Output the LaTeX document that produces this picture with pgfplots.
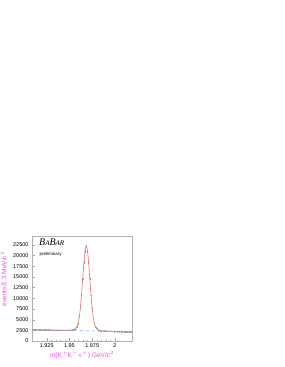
\documentclass[border=0pt]{standalone}
\usepackage{fontspec}
\setmainfont{Liberation Sans}
\newfontfamily\logofont{Liberation Serif}
\usepackage{pgfplots}
\usepackage{pgfplotstable}
\pgfplotsset{compat=1.18}
\definecolor{labmag}{RGB}{240,70,240}
\definecolor{fitred}{RGB}{230,110,110}
\definecolor{bgblue}{RGB}{140,140,255}
\pgfplotstableread{
x fit data err
1.9100 2650 2612 51
1.9113 2644 2690 52
1.9126 2639 2618 51
1.9139 2633 2660 52
1.9152 2627 2581 51
1.9165 2621 2644 51
1.9178 2615 2652 51
1.9191 2609 2575 51
1.9204 2603 2630 51
1.9217 2598 2561 51
1.9230 2592 2620 51
1.9243 2586 2604 51
1.9256 2580 2547 50
1.9269 2574 2611 51
1.9282 2568 2590 51
1.9295 2563 2528 50
1.9308 2557 2583 51
1.9321 2551 2572 51
1.9334 2545 2510 50
1.9347 2539 2566 51
1.9360 2533 2549 50
1.9373 2527 2495 50
1.9386 2522 2540 50
1.9399 2516 2531 50
1.9412 2510 2478 50
1.9425 2509 2533 50
1.9438 2505 2490 50
1.9451 2503 2527 50
1.9464 2504 2480 50
1.9477 2508 2535 50
1.9490 2516 2498 50
1.9503 2529 2561 51
1.9516 2549 2530 50
1.9529 2583 2612 51
1.9542 2636 2608 51
1.9555 2734 2770 53
1.9568 2925 2890 54
1.9581 3321 3370 58
1.9594 4095 4050 64
1.9607 5490 5560 75
1.9620 7730 7660 88
1.9633 10869 10950 105
1.9646 14639 14540 121
1.9659 18371 18480 136
1.9672 21157 21050 145
1.9685 22187 22350 150
1.9698 21145 21230 146
1.9711 18347 18250 135
1.9724 14603 14700 121
1.9737 10823 10740 104
1.9750 7672 7740 88
1.9763 5420 5370 73
1.9776 4013 4070 64
1.9789 3227 3190 56
1.9802 2819 2850 53
1.9815 2617 2590 51
1.9828 2508 2535 50
1.9841 2443 2418 49
1.9854 2397 2425 49
1.9867 2365 2340 48
1.9880 2340 2366 49
1.9893 2320 2298 48
1.9906 2306 2331 48
1.9919 2293 2270 48
1.9932 2283 2305 48
1.9945 2275 2252 47
1.9958 2264 2288 48
1.9971 2258 2236 47
1.9984 2252 2271 48
1.9997 2247 2225 47
2.0010 2241 2262 48
2.0023 2235 2214 47
2.0036 2229 2250 47
2.0049 2223 2199 47
2.0062 2217 2238 47
2.0075 2211 2190 47
2.0088 2206 2227 47
2.0101 2200 2181 47
2.0114 2194 2213 47
2.0127 2188 2166 47
2.0140 2182 2201 47
2.0153 2176 2158 46
2.0166 2170 2189 47
2.0179 2165 2146 46
2.0192 2159 2176 47
}\dsdata
\begin{document}
\begin{tikzpicture}
\path[use as bounding box] (0,0) rectangle (284pt,367pt);
\begin{axis}[
  at={(32pt,26pt)}, anchor=south west,
  scale only axis, width=100pt, height=105pt,
  xmin=1.9088, xmax=2.0188, ymin=0, ymax=24600,
  scaled y ticks=false, scaled x ticks=false,
  xtick={1.925,1.95,1.975,2}, xticklabels={1.925,1.95,1.975,2},
  ytick={0,2500,5000,7500,10000,12500,15000,17500,20000,22500},
  yticklabels={0,2500,5000,7500,10000,12500,15000,17500,20000,22500},
  minor x tick num=4, minor y tick num=4,
  tick align=inside, tick pos=left,
  major tick length=2.5pt, minor tick length=1.3pt,
  tick style={gray!70, line width=0.3pt},
  axis line style={gray!60, line width=0.4pt},
  ticklabel style={font=\fontsize{5.5}{6}\selectfont, text=black},
  xticklabel style={yshift=1pt},
  /pgf/number format/assume math mode=true,
  xlabel={m(K$^{+}$K$^{-}\pi^{+}$) GeV/c$^{2}$},
  ylabel={events/1.3 MeV/c$^{2}$},
  label style={font=\fontsize{6.5}{7}\selectfont, text=labmag},
  xlabel style={at={(axis description cs:0.5,0)}, anchor=north, yshift=-7pt},
  ylabel style={at={(axis description cs:0,0.59)}, anchor=south, yshift=22pt},
  clip=true,
]
\addplot[bgblue, dashed, line width=0.5pt] coordinates {(1.9088,2660) (2.0188,2165)};
\addplot[gray!70, only marks, mark=*, mark size=0.25pt, error bars/.cd, y dir=both, y explicit, error bar style={gray!70}]
  table[x=x, y=data, y error=err] {\dsdata};
\addplot[fitred, line width=0.6pt, smooth] table[x=x, y=fit] {\dsdata};
\node[anchor=north west, inner sep=0pt, font=\logofont\itshape] at (rel axis cs:0.07,0.975)
  {{\fontsize{10}{10}\selectfont B}{\fontsize{7}{7}\selectfont A}{\fontsize{10}{10}\selectfont B}{\fontsize{7}{7}\selectfont AR}};
\node[anchor=west, inner sep=0pt, font=\fontsize{4.5}{5}\selectfont] at (rel axis cs:0.075,0.83) {preliminary};
\end{axis}
\end{tikzpicture}
\end{document}
